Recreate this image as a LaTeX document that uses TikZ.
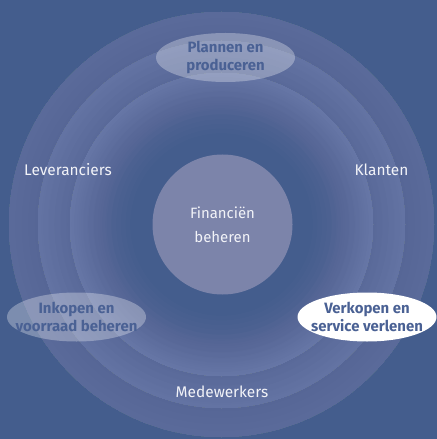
\documentclass[tikz,border=0pt]{standalone}
\usepackage{fontspec}
\setmainfont{Fira Sans}
\definecolor{BackBlue}{HTML}{445D8D}
\definecolor{CoreBlue}{HTML}{7C84AA}
\definecolor{LabelBlue}{HTML}{4A6194}
\definecolor{SoftWhite}{HTML}{F2F3F8}

\begin{document}
\begin{tikzpicture}[x=1bp, y=-1bp,
  every node/.style={align=center, font=\fontsize{15.5}{19}\selectfont},
  process/.style={text=LabelBlue, font=\bfseries\fontsize{15}{18.5}\selectfont},
  blob/.style={x radius=69.5, y radius=24.5}]
  \useasboundingbox (0,0) rectangle (437,439);
  \fill[BackBlue] (0,0) rectangle (437,439);

  % three glowing rings, light at the rim
  \foreach \r in {213,184,152}{
    \foreach \k in {1,...,13}{
      \fill[white, fill opacity=0.01, even odd rule]
        (221.5,224.5) circle (\r) (221.5,224.5) circle ({\r*(1-0.4*\k/13)});
    }
  }

  \node[circle, fill=CoreBlue, minimum size=140bp, inner sep=0pt, text=SoftWhite,
    font=\fontsize{15}{24.5}\selectfont] (core) at (222.5,224.5) {Financiën\\beheren};

  % process ellipses
  \coordinate (plan) at (225.5,57.5);
  \coordinate (buy) at (76.5,317);
  \coordinate (sell) at (367,317);
  \fill[white, fill opacity=0.3] (plan) ellipse [blob];
  \fill[white, fill opacity=0.3] (buy) ellipse [blob];
  \fill[white] (sell) ellipse [blob];
  \node[process] (plantext) at (plan) {Plannen en\\produceren};
  \node[process] (buytext) at (buy) {Inkopen en\\voorraad beheren};
  \node[process] (selltext) at (sell) {Verkopen en\\service verlenen};

  \node[text=SoftWhite] (suppliers) at (68,169.5) {Leveranciers};
  \node[text=SoftWhite] (customers) at (381.5,169.5) {Klanten};
  \node[text=SoftWhite] (staff) at (222,391.5) {Medewerkers};
\end{tikzpicture}
\end{document}
